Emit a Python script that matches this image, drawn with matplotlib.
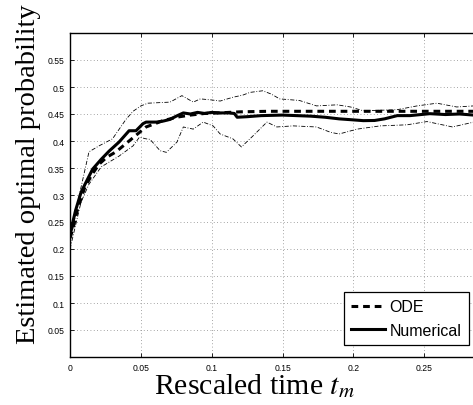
import matplotlib
matplotlib.use("Agg")
import matplotlib.pyplot as plt
import numpy as np

# ---- data ----
t_ode = [0, 0.002, 0.005, 0.01, 0.015, 0.0205, 0.026, 0.0325, 0.0417, 0.0537, 0.065,
         0.075, 0.085, 0.095, 0.105, 0.12, 0.14, 0.17, 0.2, 0.25, 0.3]
p_ode = [0.22, 0.237, 0.27, 0.311, 0.336, 0.357, 0.37, 0.38, 0.40, 0.426, 0.437,
         0.444, 0.448, 0.451, 0.452, 0.454, 0.455, 0.455, 0.455, 0.455, 0.455]

t_num = [0, 0.002, 0.004, 0.0078, 0.011, 0.016, 0.022, 0.0275, 0.0346, 0.0417, 0.0466,
         0.0515, 0.0537, 0.061, 0.066, 0.0706, 0.075, 0.08, 0.085, 0.09, 0.095, 0.1,
         0.106, 0.112, 0.116, 0.118, 0.125, 0.135, 0.15, 0.16, 0.17, 0.18, 0.19, 0.198,
         0.207, 0.215, 0.222, 0.231, 0.24, 0.254, 0.265, 0.275, 0.285, 0.3]
p_num = [0.224, 0.25, 0.272, 0.305, 0.322, 0.348, 0.366, 0.381, 0.398, 0.419, 0.419,
         0.432, 0.435, 0.435, 0.437, 0.44, 0.446, 0.452, 0.45, 0.453, 0.451, 0.453,
         0.452, 0.452, 0.451, 0.444, 0.445, 0.447, 0.448, 0.447, 0.446, 0.444, 0.441, 0.4395,
         0.4377, 0.438, 0.441, 0.447, 0.447, 0.4506, 0.449, 0.45, 0.448, 0.447]

t_up = [0, 0.002, 0.0064, 0.0134, 0.0205, 0.03, 0.0395, 0.0445, 0.05, 0.055, 0.0706,
        0.079, 0.087, 0.092, 0.1, 0.106, 0.115, 0.122, 0.127, 0.136, 0.142, 0.148,
        0.162, 0.174, 0.1886, 0.198, 0.207, 0.22, 0.231, 0.245, 0.259, 0.273, 0.285, 0.3]
p_up = [0.22, 0.237, 0.298, 0.38, 0.391, 0.404, 0.44, 0.455, 0.465, 0.47, 0.472,
        0.484, 0.472, 0.478, 0.476, 0.474, 0.481, 0.485, 0.49, 0.493, 0.487, 0.478,
        0.475, 0.465, 0.467, 0.463, 0.456, 0.457, 0.458, 0.465, 0.47, 0.463, 0.465, 0.466]

t_lo = [0, 0.0078, 0.0134, 0.022, 0.0346, 0.0445, 0.049, 0.0537, 0.0565, 0.0636,
        0.068, 0.0755, 0.08, 0.087, 0.094, 0.101, 0.106, 0.115, 0.121, 0.129, 0.139,
        0.146, 0.1575, 0.174, 0.184, 0.19, 0.2027, 0.219, 0.238, 0.252, 0.27, 0.285, 0.3]
p_lo = [0.2, 0.287, 0.32, 0.352, 0.372, 0.391, 0.407, 0.404, 0.403, 0.382,
        0.379, 0.398, 0.426, 0.422, 0.435, 0.428, 0.413, 0.404, 0.389, 0.409, 0.435,
        0.426, 0.428, 0.426, 0.416, 0.413, 0.422, 0.428, 0.43, 0.436, 0.426, 0.435, 0.433]

xticks = [0, 0.05, 0.1, 0.15, 0.2, 0.25]
xticklabels = ["0", "0.05", "0.1", "0.15", "0.2", "0.25"]
yticks = [0.05, 0.1, 0.15, 0.2, 0.25, 0.3, 0.35, 0.4, 0.45, 0.5, 0.55]
yticklabels = ["0.05", "0.1", "0.15", "0.2", "0.25", "0.3", "0.35", "0.4", "0.45", "0.5", "0.55"]

plt.rcParams['mathtext.fontset'] = 'stix'

W, H = 473, 406
fig = plt.figure(figsize=(W / 100, H / 100), dpi=100)
ax_l, ax_r, ax_t, ax_b = 70, 495, 34, 358
ax = fig.add_axes([ax_l / W, 1 - ax_b / H, (ax_r - ax_l) / W, (ax_b - ax_t) / H])

ax.plot(t_up, p_up, color='black', lw=0.6, ls=(0, (5, 2, 1, 2)), zorder=3)
ax.plot(t_lo, p_lo, color='black', lw=0.6, ls=(0, (5, 2, 1, 2)), zorder=3)
l_ode, = ax.plot(t_ode, p_ode, color='black', lw=2.2, ls=(0, (2.2, 1.6)), zorder=4, label='ODE')
l_num, = ax.plot(t_num, p_num, color='black', lw=2.2, ls='-', zorder=5, label='Numerical')

ax.set_xlim(0, 0.3)
ax.set_ylim(0, 0.6)
ax.set_xticks(xticks)
ax.set_xticklabels(xticklabels)
ax.set_yticks(yticks)
ax.set_yticklabels(yticklabels)
ax.tick_params(direction='in', length=3, width=0.6, labelsize=6.2, pad=4,
               top=True, right=True, colors='black')
for lab in ax.get_xticklabels() + ax.get_yticklabels():
    lab.set_family('Liberation Sans')
ax.grid(True, color='#888888', ls=(0, (1, 3)), lw=0.6)
for s in ax.spines.values():
    s.set_linewidth(1.0)
    s.set_color('black')

leg = ax.legend(handles=[l_ode, l_num], loc='upper left',
                bbox_to_anchor=(344 / W, 1 - 293 / H), bbox_transform=fig.transFigure,
                borderaxespad=0, prop={'family': 'Liberation Sans', 'size': 11.5},
                frameon=True, fancybox=False, edgecolor='black', framealpha=1,
                handlelength=2.1, handletextpad=0.3, borderpad=0.45, labelspacing=0.55)
leg.get_frame().set_linewidth(0.9)

fig.text(254 / W, 1 - 394 / H, r"Rescaled time $t_m$", ha='center', va='baseline',
         family='Liberation Serif', fontsize=21.5)
fig.text(35 / W, 1 - 174 / H, "Estimated optimal probability", rotation=90,
         rotation_mode='anchor', ha='center', va='baseline',
         family='Liberation Serif', fontsize=20.5)

fig.savefig('out.png', dpi=100)
